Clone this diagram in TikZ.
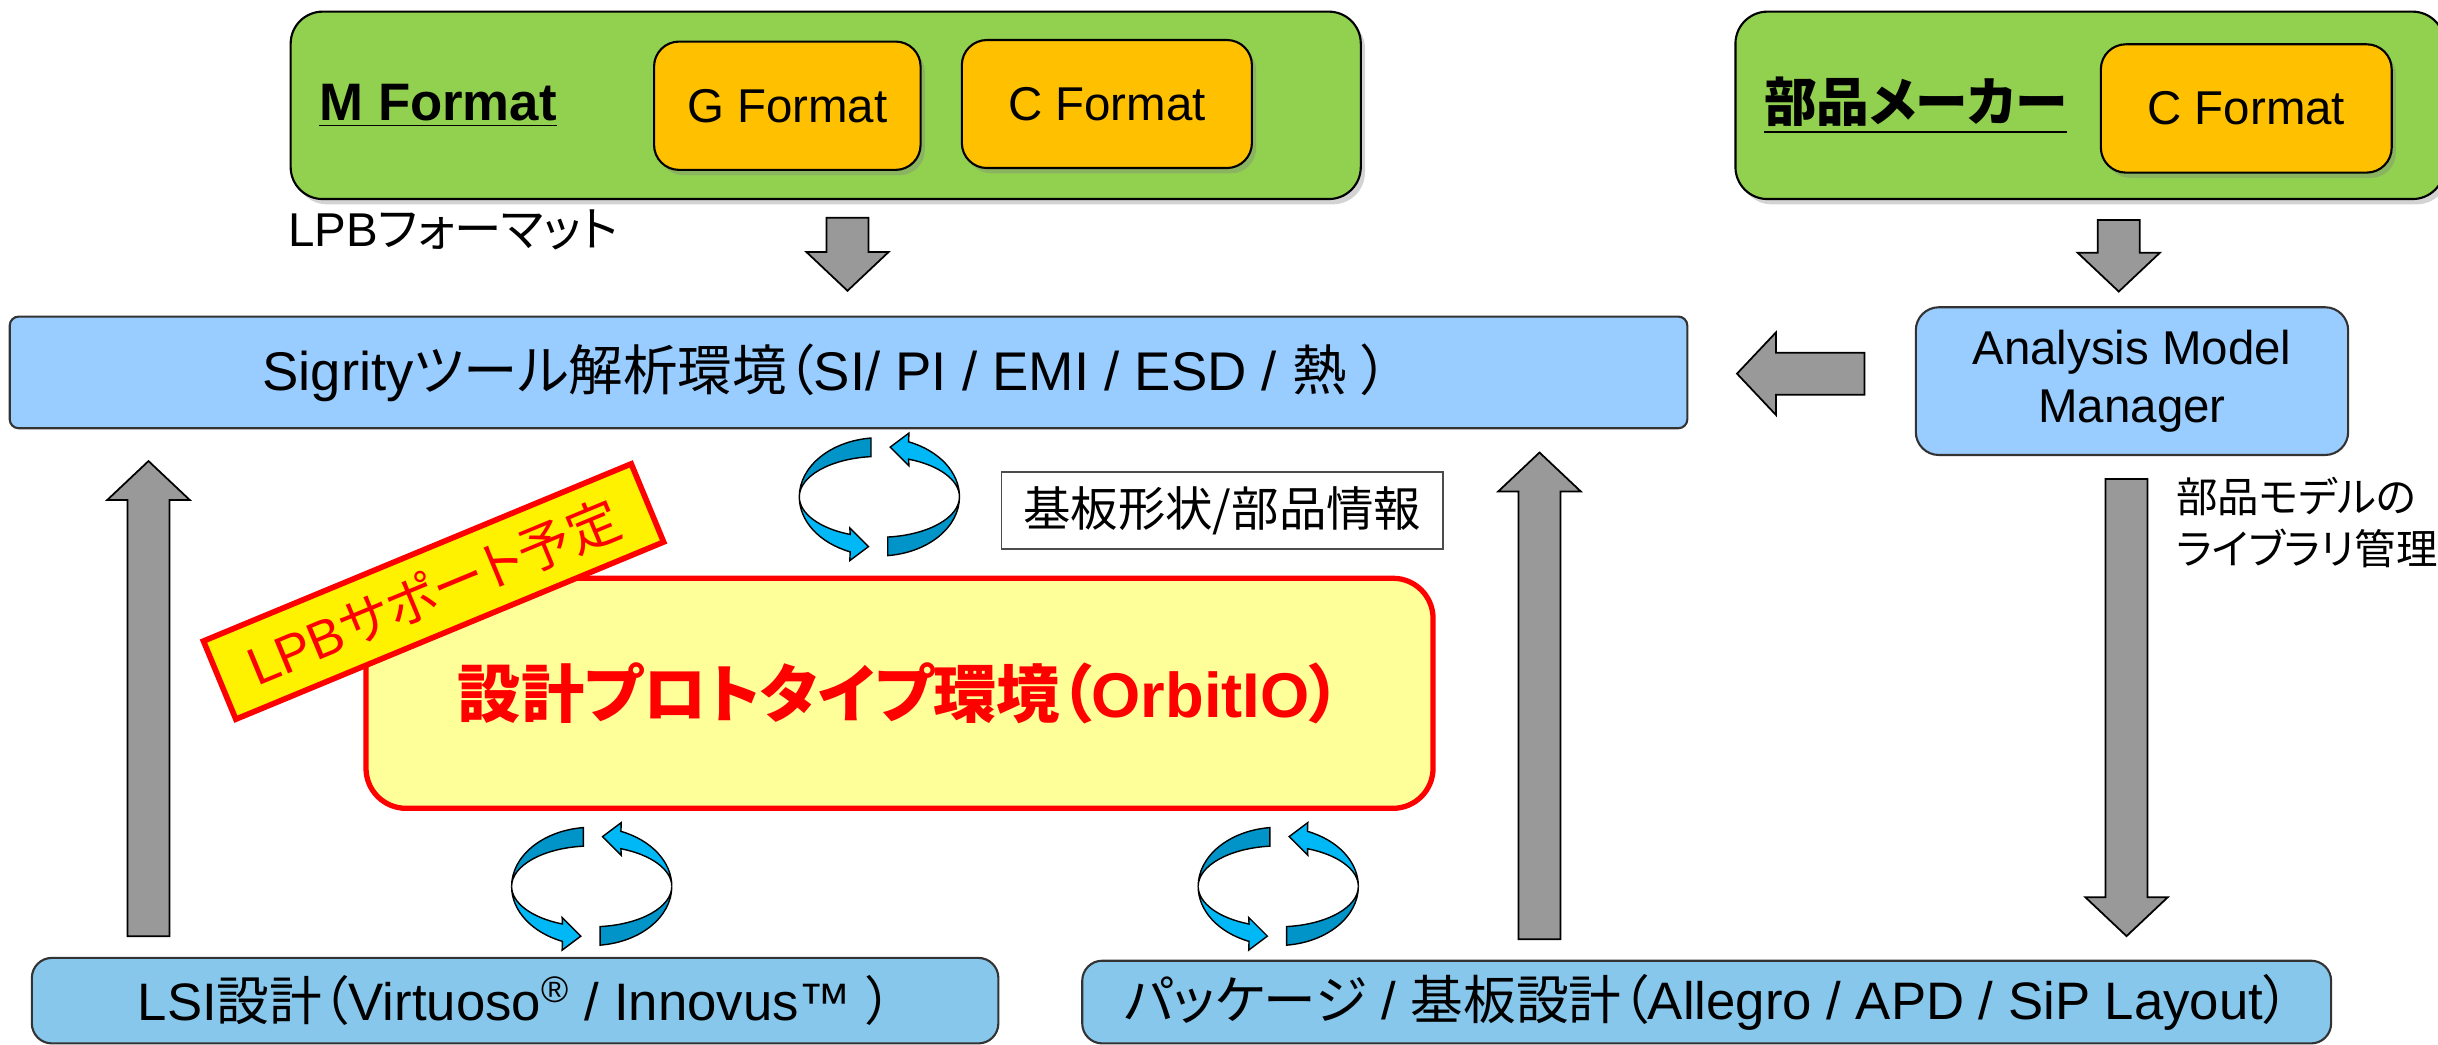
\documentclass[tikz,border=0pt]{standalone}
\usepackage{fontspec}
\setmainfont{Liberation Sans}
\newfontfamily\jp{Noto Sans CJK JP}[RawFeature=+palt]
\usetikzlibrary{shadows}

\definecolor{grassgreen}{HTML}{92D050}
\definecolor{amber}{HTML}{FFC000}
\definecolor{skyblue}{HTML}{99CCFF}
\definecolor{deepsky}{HTML}{87C7EB}
\definecolor{arrowgray}{HTML}{999999}
\definecolor{cyanlight}{HTML}{00B8F5}
\definecolor{cyandark}{HTML}{0094C8}
\definecolor{paleyellow}{HTML}{FFFF99}

% fat gray arrow: start x, start y, direction, length
\newcommand{\fatarrow}[4]{%
  \draw[fatarr, shift={(#1,#2)}, rotate=#3]
    (0,-13.5) -- (#4-25,-13.5) -- (#4-25,-26.5) -- (#4,0)
    -- (#4-25,26.5) -- (#4-25,13.5) -- (0,13.5) -- cycle;}

\begin{document}
\begin{tikzpicture}[x=0.01555cm, y=0.01555cm,
  every node/.style={inner sep=0pt, font=\fontsize{15}{18}\selectfont},
  greenbox/.style={draw=black, line width=0.6pt, fill=grassgreen, rounded corners=0.32cm,
    drop shadow={shadow xshift=1.2pt, shadow yshift=-1.5pt, opacity=0.35}},
  fmtbox/.style={draw=black, line width=0.6pt, fill=amber, rounded corners=0.25cm,
    font=\fontsize{13.5}{16}\selectfont,
    drop shadow={shadow xshift=1.2pt, shadow yshift=-1.5pt, opacity=0.35}},
  bluebox/.style={draw=black!80, line width=0.6pt, fill=skyblue},
  fatarr/.style={fill=arrowgray, draw=black, line width=0.5pt},
  pics/swirl/.style={code={
    \foreach \r in {0,180}{
      \begin{scope}[rotate=\r]
        \filldraw[fill=cyandark, draw=black, line width=0.4pt]
          (96:51.5 and 38) arc[start angle=96, end angle=180, x radius=51.5, y radius=38]
          arc[start angle=180, end angle=96, x radius=51.5, y radius=26] -- cycle;
        \filldraw[fill=cyanlight, draw=black, line width=0.4pt]
          (180:51.5 and 38) arc[start angle=180, end angle=248.6, x radius=51.5, y radius=38]
          -- (-19,-41) -- (-7,-32) -- (-19,-20)
          -- (248.6:51.5 and 26) arc[start angle=248.6, end angle=180, x radius=51.5, y radius=26] -- cycle;
      \end{scope}
    }
  }}]

\useasboundingbox (0,0) rectangle (1567.8,672);

% formats
\node[greenbox, minimum width=10.70cm, minimum height=1.874cm] (mfmt) at (531,604.25) {};
\node[anchor=west, font=\fontsize{15}{18}\selectfont\bfseries] (mname) at (205,604) {\underline{M Format}};
\node[fmtbox, minimum width=2.665cm, minimum height=1.283cm] (gfmt) at (506.3,604) {G Format};
\node[fmtbox, minimum width=2.90cm, minimum height=1.28cm] (cfmt) at (711.8,605.1) {C Format};
\node[anchor=west, font=\fontsize{13.5}{16}\selectfont] (lpbfmt) at (185,524) {LPB{\jp フォーマット}};

\node[greenbox, minimum width=7.09cm, minimum height=1.874cm] (maker) at (1344,604.25) {};
\node[anchor=west] (mkname) at (1134,604) {\underline{\jp\bfseries 部品メーカー}};
\node[fmtbox, minimum width=2.908cm, minimum height=1.283cm] (cfmt2) at (1444.5,602.25) {C Format};

\fatarrow{545}{532}{-90}{47}
\fatarrow{1362.5}{530.5}{-90}{46}

% analysis
\node[bluebox, rounded corners=0.09cm, minimum width=16.774cm, minimum height=1.1165cm] (sig) at (545.65,432.5) {};
\node[font=\fontsize{15.5}{18}\selectfont] (sigtext) at (531,432.5)
  {Sigrity{\jp ツール解析環境（}SI/ PI / EMI / ESD / {\jp 熱} {\jp ）}};
\fatarrow{1199}{431.7}{180}{82}
\node[bluebox, rounded corners=0.23cm, minimum width=4.323cm, minimum height=1.477cm, align=center,
  font=\fontsize{13.5}{16.4}\selectfont] (amm) at (1371,426.9) {Analysis Model\\Manager};

\pic at (565.5,352.5) {swirl};
\node[draw=black!70, fill=white, line width=0.5pt, minimum width=4.416cm, minimum height=0.77cm,
  font=\fontsize{13.5}{16}\selectfont] (info) at (786,343.75) {{\jp 基板形状/部品情報}};

\fatarrow{1367.5}{364}{-90}{294}
\node[anchor=west, align=left, font=\fontsize{11.8}{15}\selectfont\jp] (libnote) at (1399,336) {部品モデルの\\ライブラリ管理};

\fatarrow{95.5}{70}{90}{305.5}
\fatarrow{990}{68}{90}{313}

% prototype
\node[draw=red, line width=1.5pt, fill=paleyellow, rounded corners=0.4cm, minimum width=10.669cm, minimum height=2.30cm,
  font=\fontsize{18}{21}\selectfont\bfseries, text=red] (orbit) at (578.45,226.15)
  {{\jp 設計プロトタイプ環境（}OrbitIO{\jp ）}};
\node[draw=red, line width=1.6pt, fill=yellow, rotate=22.5, minimum width=4.63cm, minimum height=0.846cm, text=red]
  (lpbtag) at (278.8,291.6) {LPB{\jp サポート予定}};

\pic at (380.5,102) {swirl};
\pic at (822,102) {swirl};

% design tools
\node[bluebox, fill=deepsky, rounded corners=0.2cm, minimum width=9.664cm, minimum height=0.855cm] (lsi) at (331.25,28.5)
  {LSI{\jp 設計（}Virtuoso\textsuperscript{®} / Innovus™ {\jp ）}};
\node[bluebox, fill=deepsky, rounded corners=0.2cm, minimum width=12.487cm, minimum height=0.827cm] (pkg) at (1097.5,27.6)
  {{\jp パッケージ} / {\jp 基板設計（}Allegro / APD / SiP Layout{\jp ）}};

\end{tikzpicture}
\end{document}
